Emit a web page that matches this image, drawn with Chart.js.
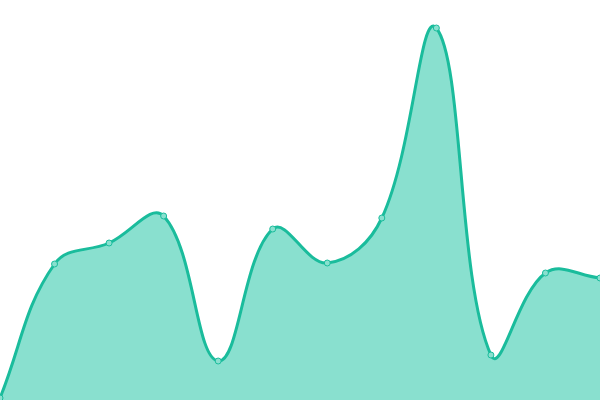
<!DOCTYPE html>
<html><head><meta charset="utf-8">
<script src="https://cdn.jsdelivr.net/npm/chart.js@4"></script>
<style>html,body{margin:0;padding:0;background:#fff}#wrap{width:600px;height:400px}</style>
</head><body><div id="wrap"><canvas id="c"></canvas></div>
<script>
const labels = ["1","2","3","4","5","6","7","8","9","10","11","12"];
const values = [2, 136, 157, 184, 39, 171, 137, 182, 372, 45, 127, 122];
new Chart(document.getElementById('c'), {
  type: 'line',
  data: { labels: labels, datasets: [{
    data: values,
    borderColor: '#1abc9c',
    backgroundColor: 'rgba(19,193,159,0.5)',
    borderWidth: 3,
    fill: true,
    tension: 0.4,
    pointRadius: 3,
    pointBorderWidth: 1,
    pointBackgroundColor: 'rgba(137,224,207,1)',
    pointBorderColor: '#1abc9c'
  }]},
  options: {
    responsive: true, maintainAspectRatio: false, animation: false,
    layout: { padding: 0, autoPadding: false },
    plugins: { legend: { display: false }, tooltip: { enabled: false } },
    scales: {
      x: { display: false, offset: false },
      y: { display: false, min: 0, max: 400 }
    }
  }
});
</script></body></html>
